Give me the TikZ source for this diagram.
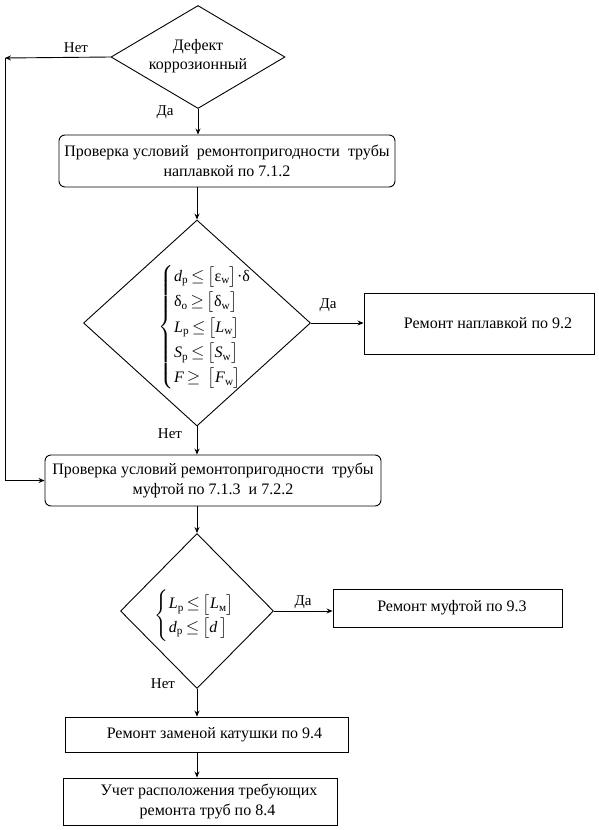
\documentclass[tikz,border=0pt]{standalone}
\usepackage{amsmath}
\usepackage{fontspec}
\setmainfont{Liberation Serif}
\usetikzlibrary{shapes.geometric,arrows.meta}
\newcommand{\myle}{\,{\le}\,}
\newcommand{\myge}{\,{\ge}\,}
\begin{document}
\begin{tikzpicture}[x=1bp,y=-1bp,
  base/.style={draw,line width=0.9bp,inner sep=0pt,font=\fontsize{16bp}{19.5bp}\selectfont,align=center},
  rbox/.style={base,rectangle,rounded corners=6bp},
  sbox/.style={base,rectangle},
  diam/.style={base,diamond},
  txt/.style={inner sep=0pt,font=\fontsize{16bp}{19.5bp}\selectfont,align=center},
  arr/.style={line width=0.9bp,-{Stealth[length=6bp,width=5bp]}},
  lbl/.style={font=\fontsize{15bp}{17bp}\selectfont,inner sep=0pt,anchor=base}]
\useasboundingbox (0,0) rectangle (599,830);
% shapes
\node[diam,minimum width=174bp,minimum height=103bp] (d1) at (198,57) {};
\node[txt] (t1) at (198,56) {Дефект\\коррозионный};
\node[rbox,minimum width=336bp,minimum height=52bp] (r1) at (227,161)
  {Проверка условий\ \ ремонтопригодности\ \ трубы\\наплавкой по 7.1.2};
\node[diam,minimum width=227bp,minimum height=206bp] (d2) at (197,323) {};
\node[txt] (t2) at (205,327) {$\left\{\renewcommand{\arraystretch}{1.3}\begin{array}{@{}l@{}}
  \text{\textit{d}\textsubscript{р}}\myle\bigl[\text{ε\textsubscript{w}}\bigr]\text{·δ}\\
  \text{δ\textsubscript{o}}\myge\bigl[\text{δ\textsubscript{w}}\bigr]\\
  \text{\textit{L}\textsubscript{р}}\myle\bigl[\text{\textit{L}\textsubscript{w}}\bigr]\\
  \text{\textit{S}\textsubscript{р}}\myle\bigl[\text{\textit{S}\textsubscript{w}}\bigr]\\
  \text{\textit{F}}\myge\;\bigl[\text{\textit{F}\textsubscript{w}}\bigr]
  \end{array}\right.$};
\node[sbox,minimum width=230bp,minimum height=61bp] (r3) at (479,323.5)
  {\hspace*{18bp}Ремонт наплавкой по 9.2};
\node[rbox,minimum width=336bp,minimum height=51bp] (r2) at (213,480.5)
  {Проверка условий ремонтопригодности\ \ трубы\\муфтой по 7.1.3\ \ и 7.2.2};
\node[diam,minimum width=153bp,minimum height=155bp] (d3) at (197,611) {};
\node[txt] (t3) at (195,616) {$\left\{\renewcommand{\arraystretch}{1.2}\begin{array}{@{}l@{}}
  \text{\textit{L}\textsubscript{р}}\myle\bigl[\text{\textit{L}\textsubscript{м}}\bigr]\\
  \text{\textit{d}\textsubscript{р}}\myle\bigl[\text{\textit{d}}\,\bigr]
  \end{array}\right.$};
\node[sbox,minimum width=229bp,minimum height=38bp] (r4) at (447.5,608)
  {\hspace*{9bp}Ремонт муфтой по 9.3};
\node[sbox,minimum width=283bp,minimum height=35bp] (r5) at (206.5,734.5)
  {\hspace*{16bp}Ремонт заменой катушки по 9.4};
\node[sbox,minimum width=274bp,minimum height=47bp] (r6) at (200,801.5)
  {\hspace*{18bp}Учет расположения требующих\\\hspace*{15bp}ремонта труб по 8.4};
% connectors
\coordinate (c1) at (5,58);
\draw[arr] (d1.west) -- (c1);
\draw[arr] (c1) |- (r2.west);
\draw[arr] (d1.south) -- (d1.south |- r1.north);
\draw[arr] (d2.north |- r1.south) -- (d2.north);
\draw[arr] (d2.east) -- (d2.east -| r3.west);
\draw[arr] (d2.south) -- (d2.south |- r2.north);
\draw[arr] (d3.north |- r2.south) -- (d3.north);
\draw[arr] (d3.east) -- (d3.east -| r4.west);
\draw[arr] (d3.south) -- (d3.south |- r5.north);
\draw[arr] (d3.south |- r5.south) -- (d3.south |- r6.north);
% labels
\node[lbl] (l1) at (76,52) {Нет};
\node[lbl] (l2) at (165,115) {Да};
\node[lbl] (l3) at (328,308) {Да};
\node[lbl] (l4) at (170,438) {Нет};
\node[lbl] (l5) at (303,605) {Да};
\node[lbl] (l6) at (163,688) {Нет};
\end{tikzpicture}
\end{document}
